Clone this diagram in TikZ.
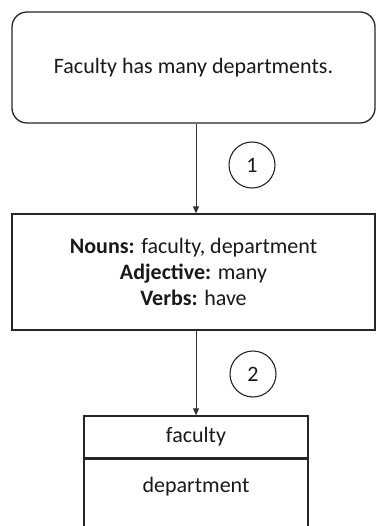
\documentclass[tikz,border=0pt]{standalone}
\usepackage{fontspec}
\setmainfont{Carlito}
\usetikzlibrary{arrows.meta}
\begin{document}
\begin{tikzpicture}[x=1pt,y=-1pt,
  every node/.style={font=\fontsize{22}{26}\selectfont, text=black!90},
  boxline/.style={draw=black!85, line width=1.3pt},
  rbox/.style={boxline, rounded corners=15pt, minimum width=363pt, minimum height=111pt, inner sep=0pt},
  sbox/.style={boxline, minimum width=363pt, minimum height=116pt, inner sep=0pt, align=center},
  numcirc/.style={draw=black!85, line width=1.1pt, circle, minimum size=46pt, inner sep=0pt},
  arr/.style={draw=black!80, line width=0.9pt, -{Triangle[length=7pt,width=6pt]}}
]
\useasboundingbox (0,0) rectangle (376,526);
\clip (0,0) rectangle (376,526);
\fill[white] (0,0) rectangle (376,526);
\node[rbox] (top) at (193.5,67.5) {Faculty has many departments.};
\node[sbox] (mid) at (193.5,272) {\textbf{Nouns:} faculty, department\\ \textbf{Adjective:} many\\ \textbf{Verbs:} have};
\node[boxline, minimum width=224pt, minimum height=42pt, inner sep=0pt] (fac) at (196,437) {faculty};
\node[boxline, minimum width=224pt, minimum height=90pt, inner sep=0pt, anchor=north] (dep) at (fac.south) {};
\node[anchor=center] (deptext) at ([yshift=-28pt]dep.north) {department};
\node[numcirc] (c1) at (252,165) {1};
\node[numcirc] (c2) at (253,374) {2};
\coordinate (ax) at (196,0);
\draw[arr] (ax |- top.south) -- (ax |- mid.north);
\draw[arr] (ax |- mid.south) -- (ax |- fac.north);
\end{tikzpicture}
\end{document}
